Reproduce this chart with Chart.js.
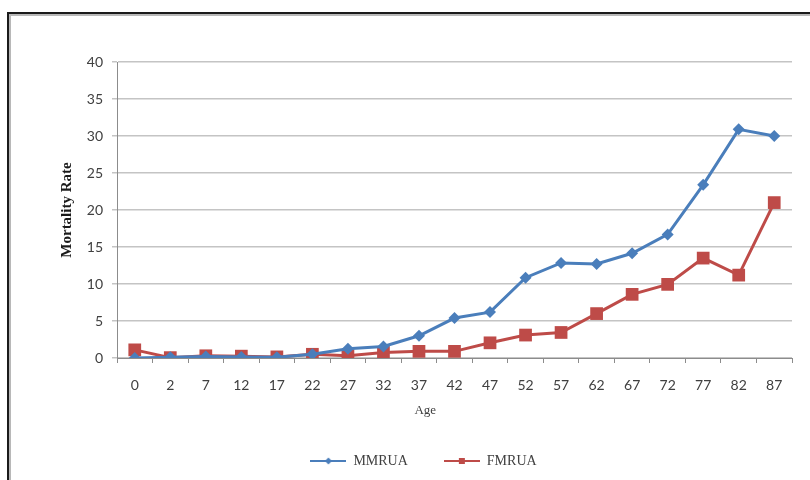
<!DOCTYPE html>
<html>
<head>
<meta charset="utf-8">
<script src="https://cdn.jsdelivr.net/npm/chart.js@4.4.1/dist/chart.umd.min.js"></script>
<style>
  html, body { margin: 0; padding: 0; background: #ffffff; overflow: hidden; }
  #wrap { position: relative; width: 810px; height: 480px; }
  #frame {
    position: absolute; left: 7px; top: 12px; width: 900px; height: 600px;
    border: 2px solid #1a1a1a; box-shadow: inset 2px 2px 0 #b8b8b8, 1px 1px 0 #d8d8d8;
    pointer-events: none;
  }
  canvas { position: absolute; left: 0; top: 0; }
</style>
</head>
<body>
<div id="wrap">
  <canvas id="c" width="810" height="480"></canvas>
  <div id="frame"></div>
</div>
<script>
// Age groups along the horizontal axis
const ages = ['0', '2', '7', '12', '17', '22', '27', '32', '37', '42', '47', '52', '57', '62', '67', '72', '77', '82', '87'];

// Mortality rates per age group
const mmrua = [0.0, 0.1, 0.2, 0.15, 0.1, 0.5, 1.25, 1.55, 3.0, 5.4, 6.2, 10.85, 12.85, 12.7, 14.15, 16.7, 23.4, 30.9, 30.0];
const fmrua = [1.1, 0.05, 0.3, 0.25, 0.15, 0.5, 0.3, 0.75, 0.9, 0.9, 2.05, 3.1, 3.45, 6.0, 8.6, 9.95, 13.5, 11.2, 21.0];

const seriesNames = ['MMRUA', 'FMRUA'];
const yTicks = [0, 5, 10, 15, 20, 25, 30, 35, 40];

const BLUE = '#4a7ebb';
const RED = '#be4b48';

// Legend swatch: short line with a small marker in the middle
function legendSwatch(color, shape) {
  const cv = document.createElement('canvas');
  cv.width = 36; cv.height = 12;
  const g = cv.getContext('2d');
  g.strokeStyle = color; g.lineWidth = 2;
  g.beginPath(); g.moveTo(0, 6); g.lineTo(36, 6); g.stroke();
  g.fillStyle = color;
  if (shape === 'diamond') {
    g.beginPath(); g.moveTo(18, 2.5); g.lineTo(21.5, 6); g.lineTo(18, 9.5); g.lineTo(14.5, 6); g.closePath(); g.fill();
  } else {
    g.fillRect(15, 3, 6, 6);
  }
  return cv;
}
const swatches = [legendSwatch(BLUE, 'diamond'), legendSwatch(RED, 'square')];

const serif = '"Liberation Serif", "Times New Roman", serif';
const sans = 'Lato, "Open Sans", sans-serif';

new Chart(document.getElementById('c'), {
  type: 'line',
  data: {
    labels: ages,
    datasets: [
      {
        label: seriesNames[0], data: mmrua,
        borderColor: BLUE, backgroundColor: BLUE, borderWidth: 3,
        pointStyle: 'rectRot', pointRadius: 6, pointHoverRadius: 6,
        pointBorderWidth: 0, tension: 0
      },
      {
        label: seriesNames[1], data: fmrua,
        borderColor: RED, backgroundColor: RED, borderWidth: 3,
        pointStyle: 'rect', pointRadius: 9, pointHoverRadius: 9,
        pointBorderWidth: 0, tension: 0
      }
    ]
  },
  options: {
    responsive: false,
    animation: false,
    events: [],
    layout: { padding: { left: 55, top: 62, right: 18, bottom: 2 } },
    scales: {
      x: {
        type: 'category',
        offset: true,
        grid: { offset: true, drawOnChartArea: false, drawTicks: true, tickLength: 5, color: '#8c8c8c' },
        border: { display: true, color: '#8c8c8c', width: 1 },
        ticks: { color: '#404040', font: { family: sans, size: 14 }, padding: 14, maxRotation: 0, autoSkip: false },
        // trailing spaces nudge the centred title a little to the left
        title: { display: true, text: 'Age\u2003\u2003\u2003\u2003\u2002', color: '#404040', font: { family: serif, size: 13 }, padding: { top: 0, bottom: 0 } },
        afterFit: (s) => { s.height = 60; }
      },
      y: {
        min: 0, max: 40,
        afterBuildTicks: (s) => { s.ticks = yTicks.map(v => ({ value: v })); },
        grid: { color: '#c4c4c4', lineWidth: 1.5, drawTicks: true, tickLength: 5 },
        border: { display: true, color: '#8c8c8c', width: 1 },
        ticks: { color: '#404040', font: { family: sans, size: 14 }, padding: 9 },
        title: { display: true, text: 'Mortality Rate', color: '#1a1a1a', font: { family: serif, size: 15, weight: 'bold' }, padding: { top: 3, bottom: 4 } },
        afterFit: (s) => { s.width = 62; }
      }
    },
    plugins: {
      tooltip: { enabled: false },
      legend: {
        position: 'bottom',
        labels: {
          color: '#404040',
          font: { family: serif, size: 14 },
          usePointStyle: true,
          pointStyleWidth: 36,
          padding: 36,
          generateLabels: (chart) => {
            const base = Chart.defaults.plugins.legend.labels.generateLabels(chart);
            return base.map((l, i) => Object.assign(l, { pointStyle: swatches[i] }));
          }
        }
      }
    }
  }
});
</script>
</body>
</html>
